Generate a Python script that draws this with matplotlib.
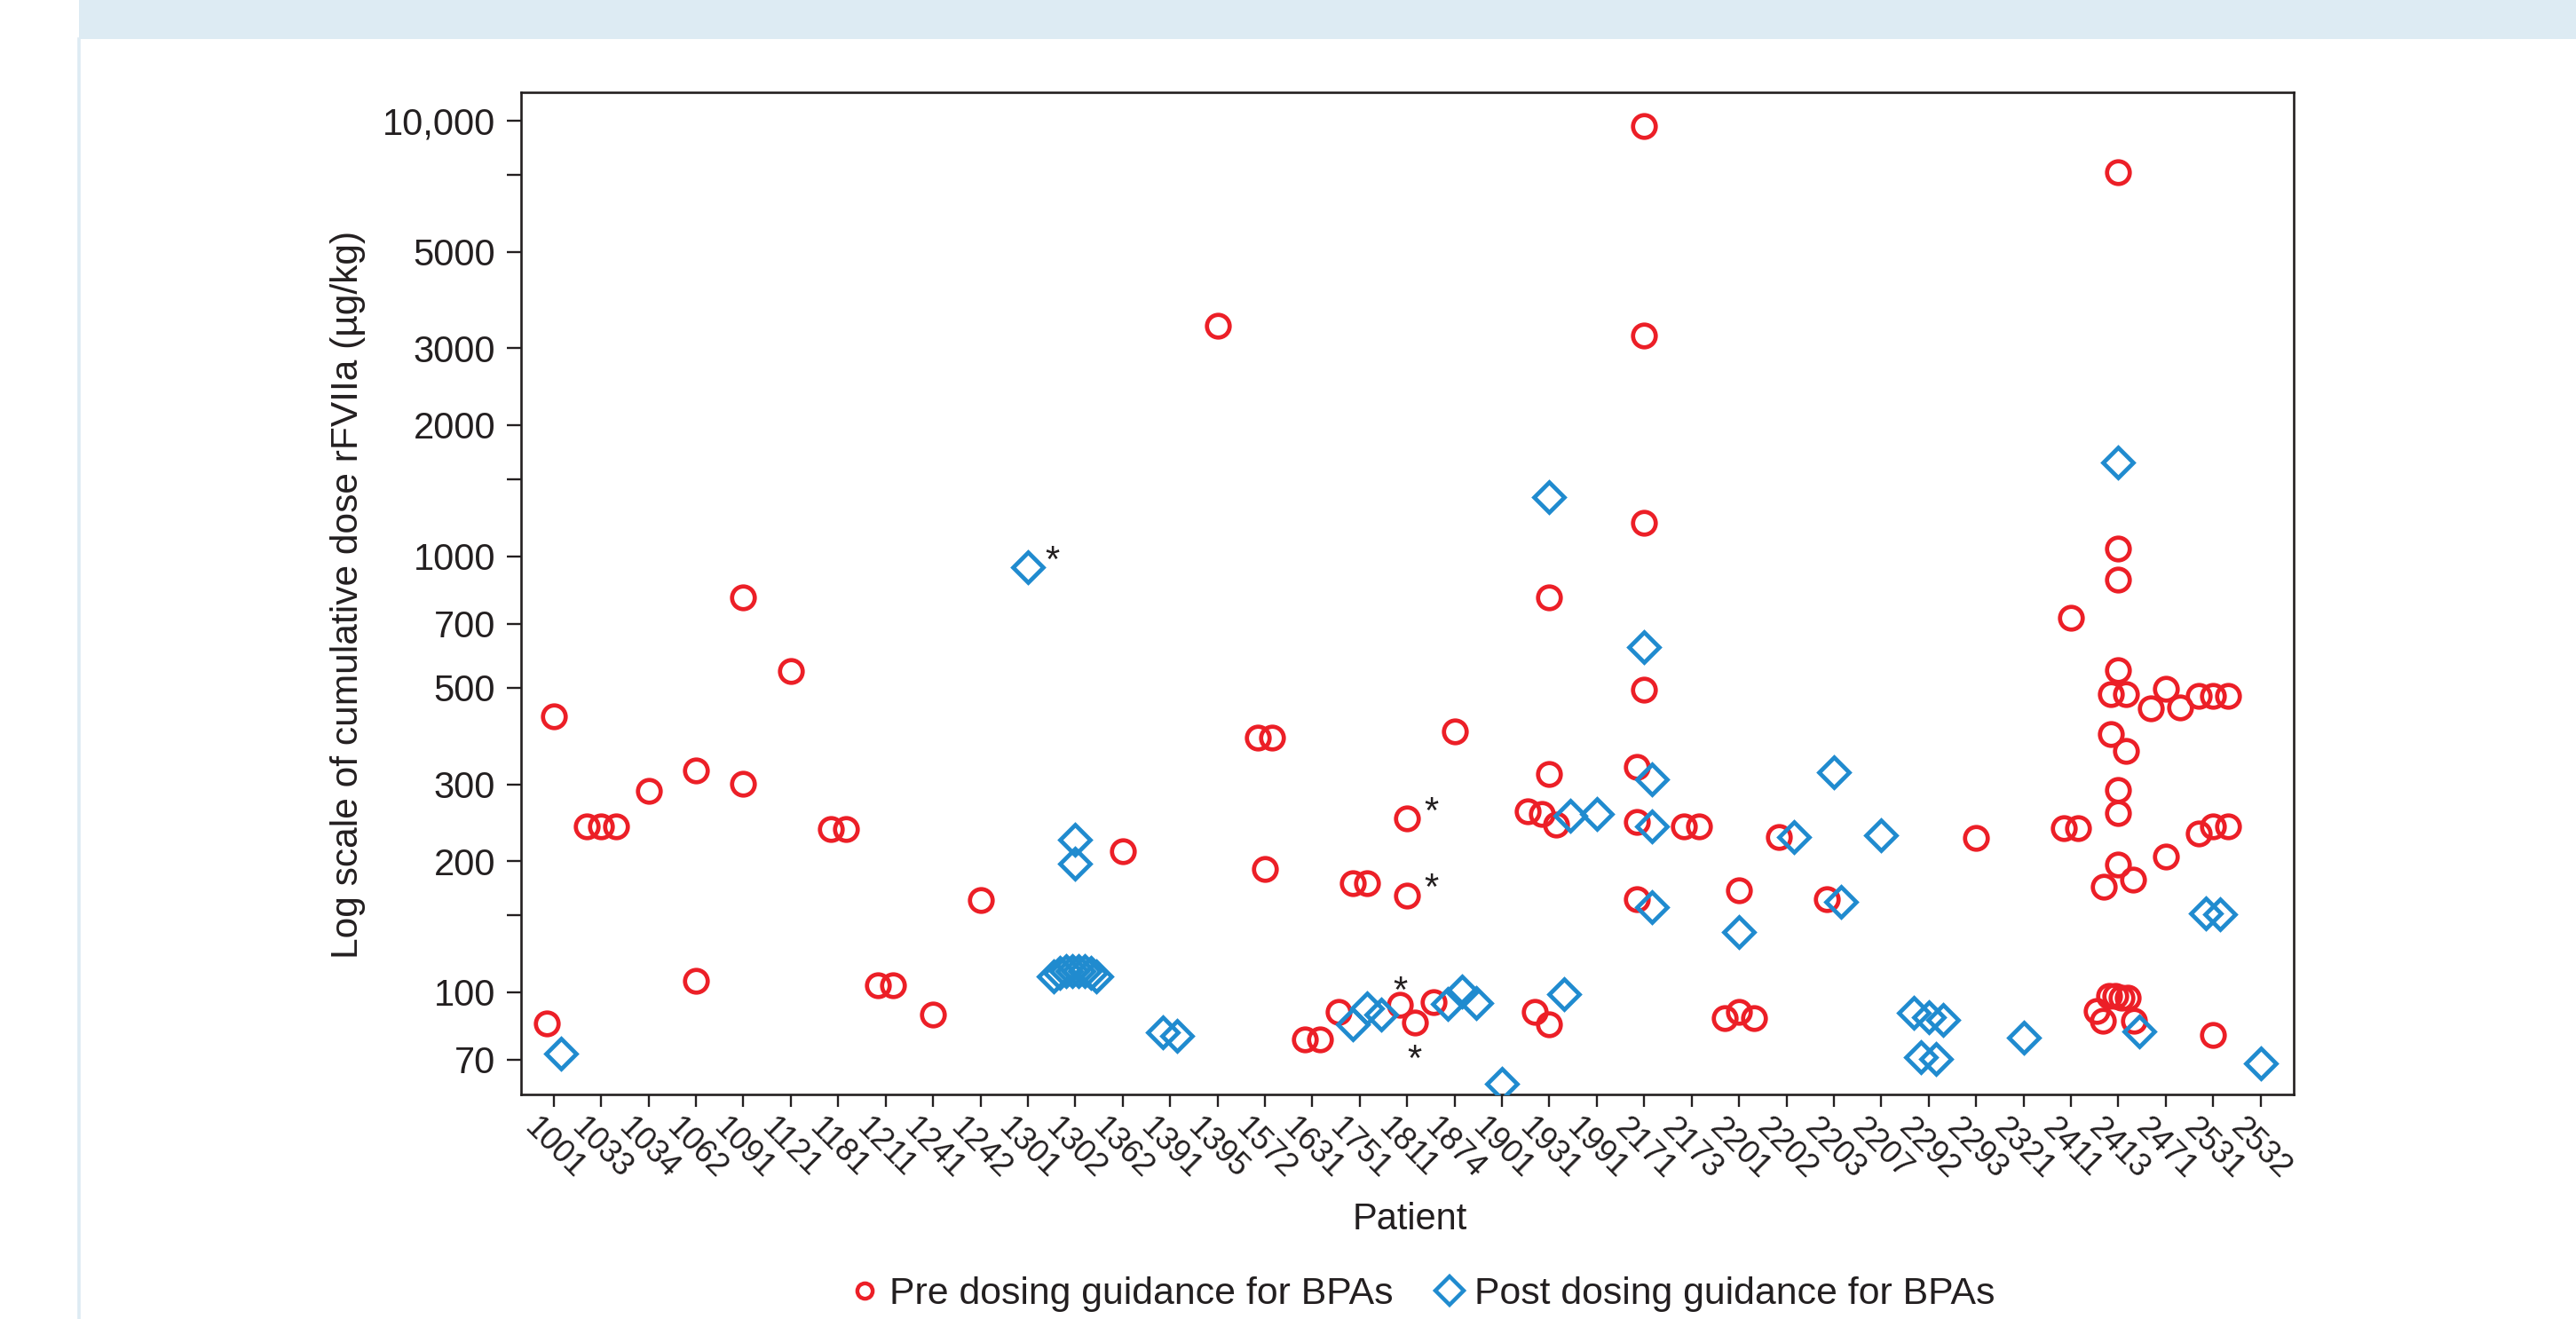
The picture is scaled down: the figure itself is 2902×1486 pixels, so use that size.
import numpy as np
import matplotlib.pyplot as plt
import matplotlib.transforms as mtransforms
from matplotlib.lines import Line2D
from matplotlib.patches import Rectangle

plt.rcParams['font.family'] = ['Liberation Sans', 'DejaVu Sans']

patients = ["1001", "1033", "1034", "1062", "1091", "1121", "1181", "1211", "1241", "1242",
            "1301", "1302", "1362", "1391", "1395", "1572", "1631", "1751", "1811", "1874",
            "1901", "1931", "1991", "2171", "2173", "2201", "2202", "2203", "2207", "2292",
            "2293", "2321", "2411", "2413", "2471", "2531", "2532"]

# cumulative dose (ug/kg), one list per patient, same order as patients
pre_dose = [
    [430, 85], [240, 240, 240], [290], [322, 106], [807, 301], [545], [237, 237], [104, 104],
    [89], [163], [], [], [211], [], [3380], [384, 384, 192], [78, 78], [178, 178, 90],
    [250, 167, 93.4, 85.3], [396, 95], [], [806, 317, 260, 256, 242, 90, 84.5], [],
    [9700, 3210, 1196, 494, 329, 246, 163.5], [240, 240], [171, 87.4, 90, 87.4], [227],
    [163.5], [], [], [226], [], [722, 238, 238],
    [7590, 1044, 884, 484, 548, 484, 392, 358, 291, 258, 174.5, 196.5, 181,
     90.4, 86, 98, 98, 97, 97, 86],
    [448, 497, 450, 205], [479, 479, 479, 231, 240, 240, 79.8], [],
]
post_dose = [
    [72.2], [], [], [], [], [], [], [], [], [], [944],
    [224, 197, 109, 111, 112, 112, 112, 112, 111, 109], [], [81, 79.4], [], [], [],
    [84.4, 92, 89], [], [94, 100.5, 94.5], [61.7], [1366, 254, 99], [256],
    [620, 308, 240, 156.6], [], [137.6], [227], [320, 161], [229],
    [89.8, 87.5, 86.6, 71, 70.4], [], [78.8], [], [1640, 81.3], [], [152, 151], [68.6],
]

# points marked with an asterisk: (patient, series, dose, where)
flagged = [("1301", "post", 944, "ur"), ("1811", "pre", 250, "ur"), ("1811", "pre", 167, "ur"),
           ("1811", "pre", 93.4, "above"), ("1811", "pre", 85.3, "below")]

ytick_vals = [70, 100, 200, 300, 500, 700, 1000, 2000, 3000, 5000, 10000]
ytick_labels = ["70", "100", "200", "300", "500", "700", "1000", "2000", "3000", "5000", "10,000"]
yminor_vals = [150, 1500, 7500]

RED = '#EC1F27'
BLUE = '#208BCF'
INK = '#231F20'


def jitter(pre_vals, post_vals):
    # spread overlapping markers of one patient sideways
    vals = list(pre_vals) + list(post_vals)
    kinds = ["pre"] * len(pre_vals) + ["post"] * len(post_vals)
    n = len(vals)
    offsets = np.zeros(n)
    if n == 0:
        return offsets, offsets
    logs = np.log10(vals)
    group = list(range(n))

    def root(i):
        while group[i] != i:
            i = group[i]
        return i

    for i in range(n):
        for j in range(i + 1, n):
            lim = 0.05 if kinds[i] == kinds[j] else 0.075
            if abs(logs[i] - logs[j]) < lim:
                group[root(j)] = root(i)
    roots = [root(i) for i in range(n)]
    for r in set(roots):
        members = [i for i in range(n) if roots[i] == r]
        k = len(members)
        if k > 1:
            step = min(0.31, 0.9 / (k - 1))
            for m, i in enumerate(members):
                offsets[i] = (m - (k - 1) / 2) * step
    return offsets[:len(pre_vals)], offsets[len(pre_vals):]


fig = plt.figure(figsize=(14.51, 7.43), dpi=200)

# page decoration: light blue band on top and left rule
band_h = 44 / 1486
fig.patches.append(Rectangle((89 / 2902, 1 - band_h), 1, band_h, transform=fig.transFigure,
                             facecolor='#DDEBF3', edgecolor='none', zorder=0))
fig.lines.append(Line2D([89 / 2902, 89 / 2902], [0, 1 - band_h], transform=fig.transFigure,
                        color='#DDEBF3', lw=1.3))

ax = fig.add_axes([587 / 2902, 1 - 1233 / 1486, (2584 - 587) / 2902, (1233 - 104) / 1486])

pre_x, pre_y, post_x, post_y = [], [], [], []
positions = {}
for i, p in enumerate(patients):
    off_pre, off_post = jitter(pre_dose[i], post_dose[i])
    for v, o in zip(pre_dose[i], off_pre):
        pre_x.append(i + o)
        pre_y.append(v)
        positions.setdefault((p, "pre", v), i + o)
    for v, o in zip(post_dose[i], off_post):
        post_x.append(i + o)
        post_y.append(v)
        positions.setdefault((p, "post", v), i + o)

ax.plot(pre_x, pre_y, linestyle='none', marker='o', ms=9.2, mew=1.7, mfc='none', mec=RED,
        zorder=3)
ax.plot(post_x, post_y, linestyle='none', marker='D', ms=8.8, mew=1.7, mfc='none', mec=BLUE,
        zorder=4)

star_off = {"ur": (9.8, 7.0), "above": (0, 9.7), "below": (0, -10.8)}
for p, s, v, where in flagged:
    dx, dy = star_off[where]
    ax.annotate('*', xy=(positions[(p, s, v)], v), xytext=(dx, dy - 8.6),
                textcoords='offset points', ha='center', va='baseline',
                fontsize=15, color=INK, zorder=5)

ax.set_yscale('log')
ax.set_ylim(58.3, 11600)
ax.set_xlim(-0.69, 36.7)
ax.set_yticks(ytick_vals)
ax.set_yticklabels(ytick_labels)
ax.set_yticks(yminor_vals, minor=True)
ax.set_yticklabels([], minor=True)
ax.set_xticks(range(len(patients)))
ax.set_xticklabels(patients, rotation=-45, ha='center', va='top', fontsize=13, color=INK)
shift = mtransforms.ScaledTranslation(13 / 200, 0, fig.dpi_scale_trans)
for lab in ax.get_xticklabels():
    lab.set_transform(lab.get_transform() + shift)

ax.tick_params(axis='y', which='both', direction='out', length=5.8, width=0.85, color=INK,
               labelsize=15, labelcolor=INK, pad=4.6)
ax.tick_params(axis='x', which='both', direction='out', length=5.0, width=0.85, color=INK,
               labelcolor=INK, pad=2.2)
for sp in ax.spines.values():
    sp.set_linewidth(0.95)
    sp.set_color(INK)

fig.text(392 / 2902, 1 - 670 / 1486, "Log scale of cumulative dose rFVIIa (\u00b5g/kg)",
         rotation=90, ha='center', va='center', fontsize=15.3, color=INK)
fig.text(1588 / 2902, 1 - 1374 / 1486, "Patient", ha='center', va='center', fontsize=15,
         color=INK)

handles = [Line2D([], [], linestyle='none', marker='o', ms=6.2, mew=1.6, mfc='none', mec=RED),
           Line2D([], [], linestyle='none', marker='D', ms=8.4, mew=1.6, mfc='none', mec=BLUE)]
fig.legend(handles, ["Pre dosing guidance for BPAs", "Post dosing guidance for BPAs"],
           loc='center', bbox_to_anchor=(1598 / 2902, 1 - 1458 / 1486), ncol=2, frameon=False,
           fontsize=15.4, handletextpad=0.05, columnspacing=0.9, handlelength=1.2,
           labelcolor=INK)

fig.savefig('out.png', dpi=200)
